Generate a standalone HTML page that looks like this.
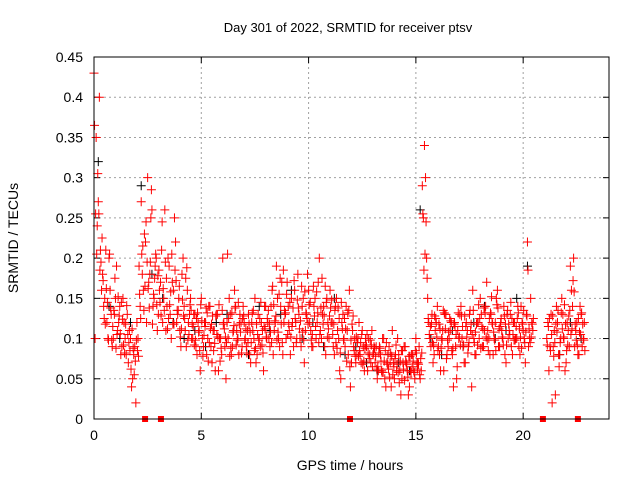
<!DOCTYPE html>
<html><head><meta charset="utf-8"><style>
body{margin:0;background:#fff;}
svg{display:block;font-family:"Liberation Sans",sans-serif;}
</style></head><body>
<svg id="chart" width="640" height="480">
<rect width="640" height="480" fill="#fff"/>
<text x="348" y="32" font-size="13" text-anchor="middle">Day 301 of 2022, SRMTID for receiver ptsv</text>
<text transform="translate(18,238) rotate(-90)" font-size="14" text-anchor="middle">SRMTID / TECUs</text>
<text x="350" y="470" font-size="14" text-anchor="middle">GPS time / hours</text>
<g id="grid"></g><g id="marks"></g>
<rect x="94" y="57" width="515" height="362" fill="none" stroke="#000" stroke-width="1"/>
</svg>
<script>
const xTicks=[0,5,10,15,20];
const yTicks=[0,0.05,0.1,0.15,0.2,0.25,0.3,0.35,0.4,0.45];
const yTickLabels=["0","0.05","0.1","0.15","0.2","0.25","0.3","0.35","0.4","0.45"];
const stepA=0.1;
const seriesA=[.43,.35,.27,.21,
.18,.15,.12,.2,.13,.1,.15,.11,.14,.09,.12,.08,
.07,.1,.05,.09,.12,
.19,.27,.16,.22,.3,.18,.26,.15,.2,.13,
.17,.12,.26,.14,.19,.1,.16,.22,.13,.11,.18,.14,.09,.12,.15,
.1,.13,.08,.11,.15,.09,.12,.1,.14,.07,.11,.13,.06,.1,.2,.09,.12,.15,.08,.11,.14,.1,.13,.09,.12,
.09,.13,.07,.11,.15,.08,.1,.12,.06,.14,
.12,.09,.16,.11,.19,.1,.14,.08,.13,.17,.11,.15,.09,.12,.18,.1,.14,.07,.13,.16,.11,.09,.15,.12,.2,.1,.14,.08,.12,.16,
.12,.08,.15,.1,.05,.13,.09,.11,.16,.07,
.09,.07,.1,.08,.11,.06,.09,.1,.07,.08,
.07,.05,.09,.06,.1,.04,.08,.07,.11,.05,.06,.08,.03,.07,.09,.06,.04,.08,.06,.1,.07,.05,
.29,.34,.2,
.12,.09,.07,.11,.14,.08,.1,.06,.13,.09,.11,.08,.12,.05,.1,.14,.09,.07,.11,.13,.04,.1,.08,.12,.15,.09,.11,.17,.1,.13,.08,.12,.16,.09,.11,.14,.07,.1,.13,.08,.12,.1,.09,.14,.11,.07,.22,.1,.12,
null,null,null,null,null,null,
.1,.06,.13,.09,.03,.12,.08,.15,.1,.07,.11,.19,.14,.09,.12,.08,.13,.1];
const seriesB=[.1,.24,.4,.16,
.14,.21,.1,.16,.09,.13,.19,.12,.08,.15,.1,.13,
.11,.04,.08,.02,.1,
.14,.18,.23,.12,.17,.25,.14,.19,.11,.16,
.21,.15,.11,.2,.13,.17,.25,.12,.15,.09,.2,.11,.16,.13,.1,
.13,.09,.12,.06,.1,.12,.08,.14,.09,.11,.06,.13,.1,.08,.12,.05,.1,.13,.09,.16,.11,.08,.12,.14,.1,
.11,.08,.12,.1,.07,.13,.09,.11,.14,.1,
.1,.14,.08,.12,.15,.09,.17,.12,.1,.14,.08,.12,.16,.1,.13,.09,.15,.11,.18,.12,.09,.14,.1,.17,.11,.13,.09,.15,.1,.12,
.09,.14,.11,.06,.12,.1,.14,.08,.04,.11,
.1,.08,.12,.07,.09,.1,.06,.08,.11,.09,
.09,.06,.08,.1,.05,.07,.09,.04,.07,.08,.1,.06,.05,.09,.07,.03,.06,.08,.05,.07,.09,.06,
.25,.3,.15,
.1,.13,.08,.12,.09,.06,.11,.13,.08,.1,.12,.04,.09,.11,.13,.1,.07,.12,.09,.11,.16,.08,.12,.1,.13,.09,.14,.11,.08,.12,.1,.15,.09,.12,.1,.08,.13,.11,.09,.12,.1,.14,.08,.12,.1,.13,.09,.15,.11,
null,null,null,null,null,null,
.12,.09,.02,.11,.14,.08,.1,.13,.06,.12,.09,.16,.2,.11,.08,.14,.09,.12];
const seriesD=[.365,.205,.255,.195,
.172,.118,.145,.205,.098,.135,.088,.152,.106,.124,.082,.141,
.095,.062,.088,.072,.085,
.155,.205,.135,.245,.162,.195,.118,.175,.142,.185,
.128,.162,.195,.112,.142,.205,.118,.172,.135,.102,.148,.125,.188,.105,.135,
.115,.098,.132,.085,.122,.104,.138,.072,.112,.128,.094,.105,.142,.088,.118,.102,.205,.078,.132,.116,.092,.145,.108,.125,.098,
.082,.118,.095,.135,.088,.105,.125,.092,.115,.102,
.135,.108,.165,.122,.098,.155,.118,.185,.132,.105,.145,.115,.172,.095,.138,.122,.108,.158,.125,.142,.098,.165,.115,.132,.105,.175,.128,.145,.112,.138,
.105,.135,.088,.125,.145,.098,.112,.132,.065,.118,
.085,.102,.078,.095,.068,.088,.105,.075,.092,.082,
.078,.065,.088,.058,.072,.095,.062,.082,.055,.075,.068,.045,.085,.062,.072,.052,.078,.065,.058,.082,.068,.075,
.255,.205,.175,
.105,.118,.092,.125,.085,.112,.098,.132,.075,.108,.122,.088,.115,.065,.102,.128,.092,.115,.082,.135,.105,.095,.118,.142,.088,.112,.132,.098,.125,.152,.108,.085,.138,.115,.102,.128,.092,.118,.145,.105,.098,.125,.112,.088,.135,.108,.185,.095,.118,
null,null,null,null,null,null,
.092,.125,.105,.078,.118,.135,.095,.112,.142,.085,.128,.105,.172,.118,.092,.108,.132,.098];
const seriesE=[.255,.305,.185,.225,
.125,.162,.098,.138,.115,.175,.105,.128,.145,.092,.118,.105,
.085,.112,.055,.098,.078,
.125,.215,.165,.195,.138,.285,.155,.205,.178,.145,
.245,.135,.175,.125,.158,.118,.185,.135,.165,.112,.128,.175,.098,.142,.118,
.092,.125,.108,.142,.078,.115,.132,.095,.118,.085,.128,.102,.072,.135,.112,.095,.125,.088,.108,.138,.098,.118,.082,.128,.112,
.095,.108,.132,.085,.118,.098,.145,.082,.112,.125,
.118,.095,.142,.128,.108,.175,.095,.135,.155,.118,.102,.138,.125,.148,.112,.165,.098,.132,.118,.145,.105,.128,.158,.095,.138,.118,.165,.102,.128,.148,
.118,.095,.138,.082,.112,.125,.072,.135,.098,.128,
.078,.095,.085,.105,.072,.092,.082,.098,.065,.088,
.062,.082,.072,.058,.085,.068,.052,.078,.065,.092,.058,.072,.085,.048,.068,.078,.058,.072,.085,.062,.055,.082,
.185,.245,.125,
.115,.095,.128,.102,.118,.088,.135,.112,.098,.125,.085,.118,.105,.132,.092,.115,.128,.102,.095,.118,.135,.108,.092,.125,.115,.138,.102,.085,.132,.118,.098,.142,.112,.125,.092,.118,.135,.105,.125,.098,.115,.132,.102,.118,.095,.128,.112,.102,.125,
null,null,null,null,null,null,
.115,.085,.128,.095,.108,.065,.132,.102,.118,.092,.135,.112,.158,.098,.125,.105,.118,.085];
const stepC=0.5;
const seriesC=[.32,.14,.1,.12,.29,.18,.15,.12,.1,.11,.09,.12,.13,.1,.08,.14,.11,.13,.16,.1,.12,.09,.15,.08,.09,.07,.06,.08,.07,.06,.26,.1,.08,.11,.09,.12,.14,.1,.11,.15,.19,null,null,.08,.12,.1];
const gapHours=[2.38,3.12,11.93,20.92,22.55];

const X=h=>94+h*(515/24);
const Y=v=>419-v*(362/0.45);
const NS="http://www.w3.org/2000/svg";
const grid=document.getElementById('grid'),marks=document.getElementById('marks');
function mk(tag,attrs,parent){const e=document.createElementNS(NS,tag);for(const k in attrs)e.setAttribute(k,attrs[k]);parent.appendChild(e);return e;}
xTicks.forEach(t=>{const x=X(t);
 if(t>0){const g=mk('line',{x1:x,y1:57,x2:x,y2:419,stroke:'#a0a0a0','stroke-dasharray':'2,3'},grid);
 
 }
 mk('line',{x1:x,y1:419,x2:x,y2:413,stroke:'#000'},grid);
 mk('line',{x1:x,y1:57,x2:x,y2:63,stroke:'#000'},grid);
 const l=mk('text',{x:x,y:440,'font-size':14,'text-anchor':'middle'},grid);l.textContent=t;
 
 });
yTicks.forEach((t,i)=>{const y=Y(t);
 if(i>0&&i<yTicks.length-1){const g=mk('line',{x1:94,y1:y,x2:609,y2:y,stroke:'#a0a0a0','stroke-dasharray':'2,3'},grid);
 
 }
 mk('line',{x1:94,y1:y,x2:100,y2:y,stroke:'#000'},grid);
 mk('line',{x1:609,y1:y,x2:603,y2:y,stroke:'#000'},grid);
 const l=mk('text',{x:83,y:y+5,'font-size':14,'text-anchor':'end'},grid);l.textContent=yTickLabels[i];
 
 });
function plus(h,v,col,name){const x=X(h),y=Y(v);
 const p=mk('path',{d:`M${x-4.5},${y}h9M${x},${y-4.5}v9`,stroke:col,'stroke-width':1,fill:'none'},marks);
 
 }
seriesC.forEach((v,i)=>{if(v!==null)plus(i*stepC+0.2,v,'#000','black-point');});
seriesA.forEach((v,i)=>{if(v!==null)plus(i*stepA,v,'#f00','red-point');});
seriesB.forEach((v,i)=>{if(v!==null)plus(i*stepA+0.05,v,'#f00','red-point');});
seriesD.forEach((v,i)=>{if(v!==null)plus(i*stepA+0.025,v,'#f00','red-point');});
seriesE.forEach((v,i)=>{if(v!==null)plus(i*stepA+0.075,v,'#f00','red-point');});
gapHours.forEach(h=>{const r=mk('rect',{x:X(h)-3,y:416,width:6,height:6,fill:'#f00'},marks);
 
 });
</script>
</body></html>
